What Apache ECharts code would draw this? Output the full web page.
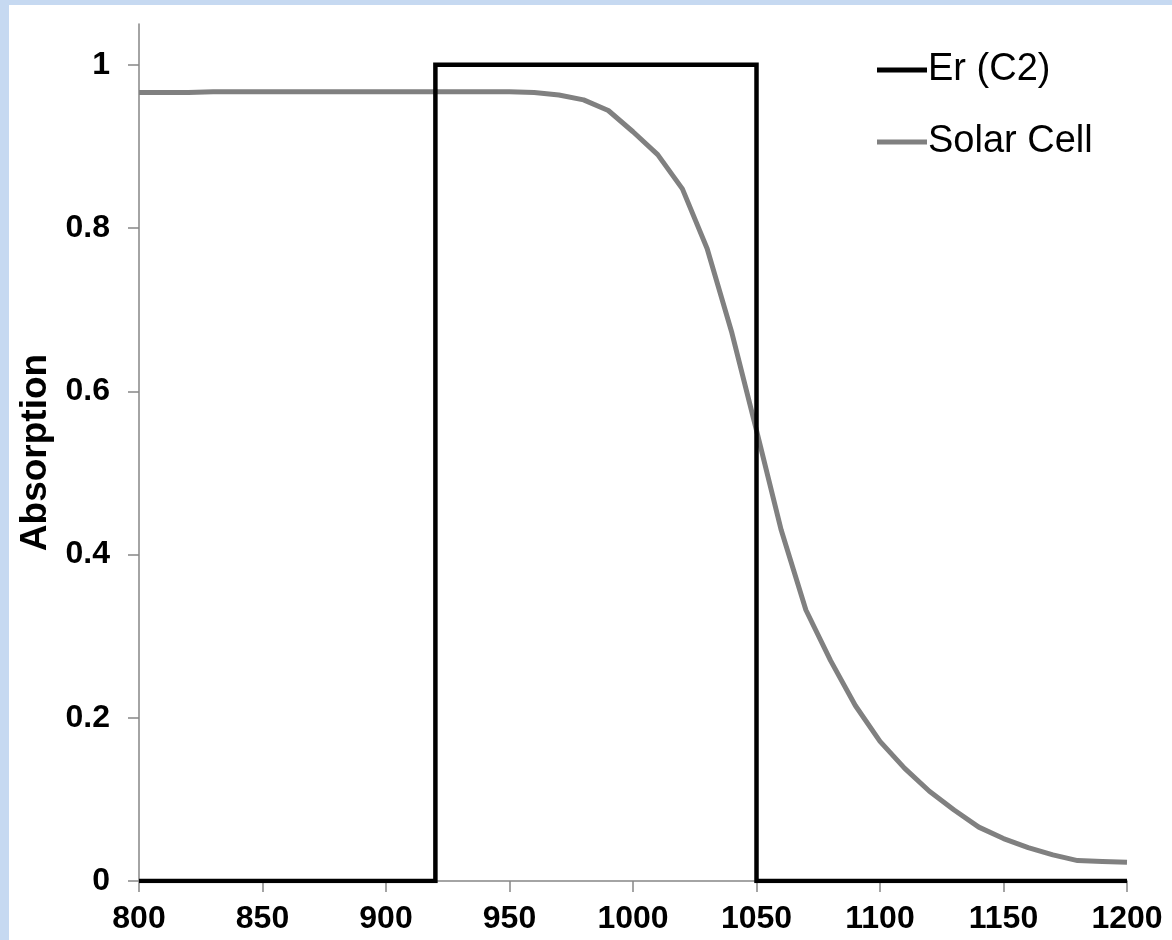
<!DOCTYPE html>
<html>
<head>
<meta charset="utf-8">
<script src="https://cdn.jsdelivr.net/npm/echarts@6/dist/echarts.min.js"></script>
<style>
html,body{margin:0;padding:0;width:1172px;height:940px;background:#c6d9f1;overflow:hidden;}
#chart{position:absolute;left:9px;top:5px;width:1163px;height:935px;background:#ffffff;}
</style>
</head>
<body>
<div id="chart"></div>
<script>
// Er (C2) step profile: [wavelength, absorption]
const erWavelengths = [800, 920, 920, 1050, 1050, 1200];
const erValues      = [0,   0,   1,   1,    0,    0];

// Solar cell absorption
const solarWavelengths = [800, 810, 820, 830, 840, 850, 860, 870, 880, 890, 900, 910, 920, 930, 940, 950, 960, 970, 980, 990, 1000, 1010, 1020, 1030, 1040, 1050, 1060, 1070, 1080, 1090, 1100, 1110, 1120, 1130, 1140, 1150, 1160, 1170, 1180, 1190, 1200];
const solarValues      = [0.966, 0.966, 0.966, 0.967, 0.967, 0.967, 0.967, 0.967, 0.967, 0.967, 0.967, 0.967, 0.967, 0.967, 0.967, 0.967, 0.966, 0.963, 0.957, 0.944, 0.918, 0.89, 0.848, 0.775, 0.672, 0.552, 0.43, 0.332, 0.27, 0.215, 0.171, 0.138, 0.11, 0.087, 0.066, 0.052, 0.041, 0.032, 0.025, 0.024, 0.023];

const xTicks = [800, 850, 900, 950, 1000, 1050, 1100, 1150, 1200];
const yTicks = [0, 0.2, 0.4, 0.6, 0.8, 1];

const seriesNames = ['Er (C2)', 'Solar Cell'];

const chart = echarts.init(document.getElementById('chart'));
const font = '"Liberation Sans", Arial, sans-serif';
chart.setOption({
  animation: false,
  backgroundColor: '#ffffff',
  grid: { left: 130, right: 45, top: 19, bottom: 59, containLabel: false, outerBoundsMode: 'none' },
  legend: {
    orient: 'vertical',
    left: 863, top: 41,
    itemWidth: 50, itemHeight: 5, itemGap: 34,
    textStyle: { fontFamily: font, fontSize: 38, color: '#000', padding: [0,0,0,-4] },
    data: [
      { name: seriesNames[0], icon: 'rect', itemStyle: { color: '#000000' } },
      { name: seriesNames[1], icon: 'rect', itemStyle: { color: '#808080' } }
    ]
  },
  xAxis: {
    type: 'value', min: 800, max: 1200, interval: 50,
    splitLine: { show: false },
    axisLine: { lineStyle: { color: '#868686', width: 1.5 } },
    axisTick: { length: 11, lineStyle: { color: '#868686', width: 1.5 }, customValues: xTicks },
    axisLabel: { fontFamily: font, fontSize: 32, fontWeight: 'bold', color: '#000', margin: 22, customValues: xTicks,
      formatter: v => String(v) }
  },
  yAxis: {
    type: 'value', min: 0, max: 1.05, interval: 0.2,
    name: 'Absorption', nameLocation: 'middle', nameGap: 85, nameMoveOverlap: false,
    nameTextStyle: { fontFamily: font, fontSize: 37, fontWeight: 'bold', color: '#000' },
    splitLine: { show: false },
    axisLine: { show: true, lineStyle: { color: '#868686', width: 1.5 } },
    axisTick: { show: true, length: 11, lineStyle: { color: '#868686', width: 1.5 }, customValues: yTicks },
    axisLabel: { fontFamily: font, fontSize: 32, fontWeight: 'bold', color: '#000', margin: 29, customValues: yTicks,
      formatter: v => String(Math.round(v * 10) / 10) }
  },
  series: [
    {
      name: seriesNames[0], type: 'line', showSymbol: false, symbol: 'none', z: 3,
      lineStyle: { color: '#000000', width: 4.5, join: 'miter' },
      itemStyle: { color: '#000000' },
      data: erWavelengths.map((w, i) => [w, erValues[i]])
    },
    {
      name: seriesNames[1], type: 'line', showSymbol: false, symbol: 'none', z: 2,
      lineStyle: { color: '#808080', width: 5 },
      itemStyle: { color: '#808080' },
      data: solarWavelengths.map((w, i) => [w, solarValues[i]])
    }
  ]
});
</script>
</body>
</html>
